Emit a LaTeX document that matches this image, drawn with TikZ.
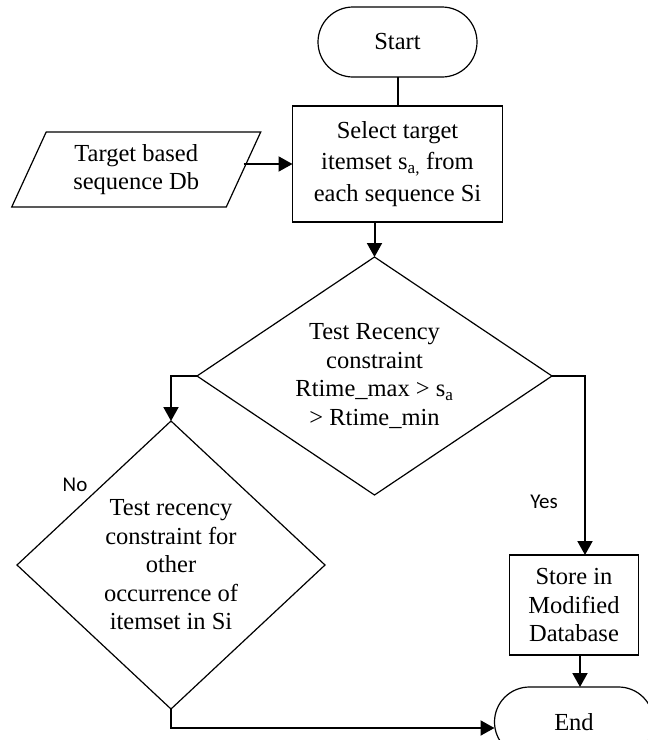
\documentclass[tikz,border=0pt]{standalone}
\usepackage{fontspec}
\setmainfont{Liberation Serif}
\newfontfamily\lblfont{Carlito}
\usetikzlibrary{
  arrows.meta,
  positioning,
  shapes.geometric,
}
\tikzset{
  x=1pt,
  y=-1pt,
  node distance=30pt,
  base/.style={
    draw, line width=1.2pt, inner sep=0pt, outer sep=0pt,
    align=center, font=\fontsize{24.5}{28.5}\selectfont,
  },
  term/.style={base, rounded corners=35pt, minimum width=159pt, minimum height=70pt},
  proc/.style={base, rectangle, minimum width=210pt, minimum height=116pt},
  io/.style={
    base, trapezium, trapezium left angle=55.8, trapezium right angle=124.2,
    trapezium stretches body, minimum width=249pt, minimum height=75pt,
  },
  dec/.style={base, diamond},
  lbl/.style={font=\lblfont\fontsize{21}{24}\selectfont},
  link/.style={line width=2pt},
  >={Triangle[length=14pt,width=15pt]},
}

\begin{document}
\begin{tikzpicture}
  \useasboundingbox (0,0) rectangle (648,740);
  \node[term](Start) at (397.5,42){Start};
  \node[proc, below=29pt of Start](Select){Select target\\[3pt]
    itemset s\textsubscript{a,} from\\[3pt] each sequence Si};
  \node[io, left=49pt of Select, yshift=-5.5pt](Data){Target based\\sequence Db};
  \node[dec, aspect=1.49, minimum width=355pt, minimum height=238pt,
    below=35pt of Select, xshift=-23pt](TestA){Test Recency\\constraint\\
    Rtime\_max > s\textsubscript{a}\\> Rtime\_min};
  \node[dec, aspect=1.07, minimum width=308pt, minimum height=288pt,
    below=45pt of TestA.west, xshift=-26pt](TestB){Test recency\\constraint for\\
    other\\occurrence of\\itemset in Si};
  \node[proc, minimum width=129pt, minimum height=100pt,
    below=179pt of TestA.east, xshift=22pt](Store){Store in\\Modified\\Database};
  \node[term, below=32pt of Store](End){End};
  \node[lbl](No) at ([shift={(-96,64)}]TestB.north){No};
  \node[lbl](Yes) at ([shift={(-8,126)}]TestA.east){Yes};
  %%
  \draw[link](Start) -- (Select);
  \draw[link,->](Data.east |- Select) -- (Select.west);
  \draw[link,->](Select.south -| TestA.north) -- (TestA.north);
  \draw[link,->](TestA.west) -| (TestB.north);
  \draw[link,->](TestA.east) -| ([xshift=11pt]Store.north);
  \draw[link,->]([xshift=6pt]Store.south) -- ([xshift=6pt]Store.south |- End.north);
  \draw[link,->](TestB.south) |- ([yshift=-6pt]End.west);
\end{tikzpicture}
\end{document}
